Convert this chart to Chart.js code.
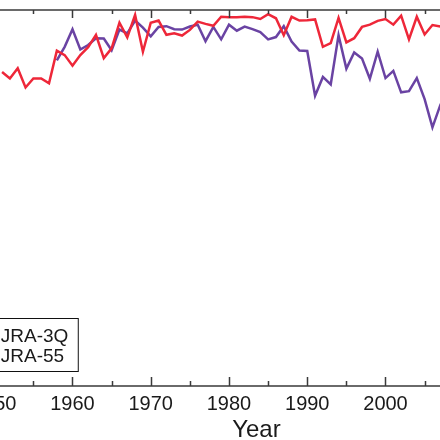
<!DOCTYPE html>
<html>
<head>
<meta charset="utf-8">
<script src="https://cdn.jsdelivr.net/npm/chart.js@4"></script>
<style>
  html, body { margin: 0; padding: 0; background: #fff; overflow: hidden; }
  #wrap { position: absolute; left: -34px; top: 0; width: 576px; height: 450px; }
</style>
</head>
<body>
<div id="wrap"><canvas id="skillChart" width="576" height="450"></canvas></div>
<script>
// yearly values, JRA-3Q vs JRA-55
const years = [1951, 1952, 1953, 1954, 1955, 1956, 1957, 1958, 1959, 1960,
  1961, 1962, 1963, 1964, 1965, 1966, 1967, 1968, 1969, 1970,
  1971, 1972, 1973, 1974, 1975, 1976, 1977, 1978, 1979, 1980,
  1981, 1982, 1983, 1984, 1985, 1986, 1987, 1988, 1989, 1990,
  1991, 1992, 1993, 1994, 1995, 1996, 1997, 1998, 1999, 2000,
  2001, 2002, 2003, 2004, 2005, 2006, 2007, 2008];

const jra3q = [0.835, 0.818, 0.845, 0.794, 0.818, 0.818, 0.805, 0.892, 0.880, 0.852,
  0.880, 0.901, 0.934, 0.872, 0.898, 0.966, 0.927, 0.987, 0.889, 0.966,
  0.972, 0.934, 0.938, 0.932, 0.947, 0.969, 0.963, 0.958, 0.982, 0.981,
  0.981, 0.982, 0.981, 0.976, 0.989, 0.978, 0.933, 0.982, 0.972, 0.973,
  0.975, 0.902, 0.912, 0.979, 0.914, 0.925, 0.955, 0.961, 0.971, 0.976,
  0.961, 0.985, 0.922, 0.982, 0.935, 0.960, 0.956, 0.958];

const jra55 = [null, null, null, null, null, null, null, 0.866, 0.902, 0.949,
  0.895, 0.907, 0.925, 0.924, 0.893, 0.948, 0.938, 0.972, 0.953, 0.930,
  0.955, 0.957, 0.949, 0.948, 0.956, 0.961, 0.917, 0.955, 0.922, 0.961,
  0.945, 0.956, 0.949, 0.941, 0.922, 0.928, 0.957, 0.916, 0.892, 0.891,
  0.772, 0.822, 0.802, 0.933, 0.844, 0.887, 0.871, 0.817, 0.889, 0.819,
  0.838, 0.781, 0.784, 0.819, 0.763, 0.688, 0.747, 0.790];

const seriesLabels = ['JRA-3Q', 'JRA-55'];
const tickYears = [1950, 1960, 1970, 1980, 1990, 2000, 2010];
const xMin = 1947, xMax = 2020;

const fontFamily = '"Liberation Sans", Arial, sans-serif';

// top and bottom frame lines with inward ticks (matlab look)
const framePlugin = {
  id: 'frame',
  afterDraw(chart) {
    const { ctx, chartArea, scales } = chart;
    const xs = scales.x;
    ctx.save();
    ctx.strokeStyle = '#3a3a3a';
    ctx.lineWidth = 1.5;
    ctx.beginPath();
    ctx.moveTo(0, chartArea.top);
    ctx.lineTo(chart.width, chartArea.top);
    ctx.moveTo(0, chartArea.bottom);
    ctx.lineTo(chart.width, chartArea.bottom);
    for (let yr = 1950; yr <= xMax; yr += 5) {
      const px = Math.round(xs.getPixelForValue(yr)) + 0.5;
      const major = yr % 10 === 0;
      ctx.moveTo(px, chartArea.bottom);
      ctx.lineTo(px, chartArea.bottom - (major ? 9 : 5));
      ctx.moveTo(px, chartArea.top);
      ctx.lineTo(px, chartArea.top + (major ? 8 : 4));
    }
    ctx.stroke();
    ctx.restore();
  }
};

// boxed legend in the lower left corner of the plot
const boxLegend = {
  id: 'boxLegend',
  afterDraw(chart) {
    const { ctx, chartArea } = chart;
    const right = chartArea.left + 107;
    const top = chartArea.bottom - 68;
    const bottom = chartArea.bottom - 15;
    ctx.save();
    ctx.fillStyle = '#fff';
    ctx.fillRect(chartArea.left, top, right - chartArea.left, bottom - top);
    ctx.strokeStyle = '#111';
    ctx.lineWidth = 1;
    ctx.strokeRect(chartArea.left + 0.5, top + 0.5, right - chartArea.left, bottom - top);
    ctx.font = '19px ' + fontFamily;
    ctx.textBaseline = 'alphabetic';
    chart.data.datasets.forEach((ds, i) => {
      const y = chartArea.bottom - 44 + i * 20;
      ctx.strokeStyle = ds.borderColor;
      ctx.lineWidth = 2.5;
      ctx.beginPath();
      ctx.moveTo(chartArea.left + 6, y - 6);
      ctx.lineTo(chartArea.left + 26, y - 6);
      ctx.stroke();
      ctx.fillStyle = '#1a1a1a';
      ctx.fillText(ds.label, chartArea.left + 30, y);
    });
    ctx.restore();
  }
};

const ctx = document.getElementById('skillChart').getContext('2d');
new Chart(ctx, {
  type: 'line',
  data: {
    labels: years,
    datasets: [
      {
        label: seriesLabels[0],
        data: jra3q,
        borderColor: '#ee2739',
        borderWidth: 2.5,
        pointRadius: 0,
        tension: 0
      },
      {
        label: seriesLabels[1],
        data: jra55,
        borderColor: '#6a43a3',
        borderWidth: 2.5,
        pointRadius: 0,
        tension: 0
      }
    ]
  },
  options: {
    responsive: false,
    animation: false,
    layout: { autoPadding: false, padding: { top: 10, left: 0, right: 0, bottom: 0 } },
    plugins: {
      legend: { display: false },
      tooltip: { enabled: false }
    },
    scales: {
      x: {
        type: 'linear',
        min: xMin,
        max: xMax,
        afterBuildTicks: s => { s.ticks = tickYears.map(v => ({ value: v })); },
        afterFit: s => { s.height = 64; },
        grid: { display: false, drawTicks: false },
        border: { display: false },
        ticks: {
          padding: 6,
          maxRotation: 0,
          autoSkip: false,
          color: '#1a1a1a',
          font: { family: fontFamily, size: 20 },
          callback: v => String(v)
        },
        title: {
          display: true,
          text: 'Year',
          color: '#1a1a1a',
          padding: { top: 0, bottom: 5 },
          font: { family: fontFamily, size: 24 }
        }
      },
      y: {
        display: false,
        min: 0,
        max: 1
      }
    }
  },
  plugins: [framePlugin, boxLegend]
});
</script>
</body>
</html>
